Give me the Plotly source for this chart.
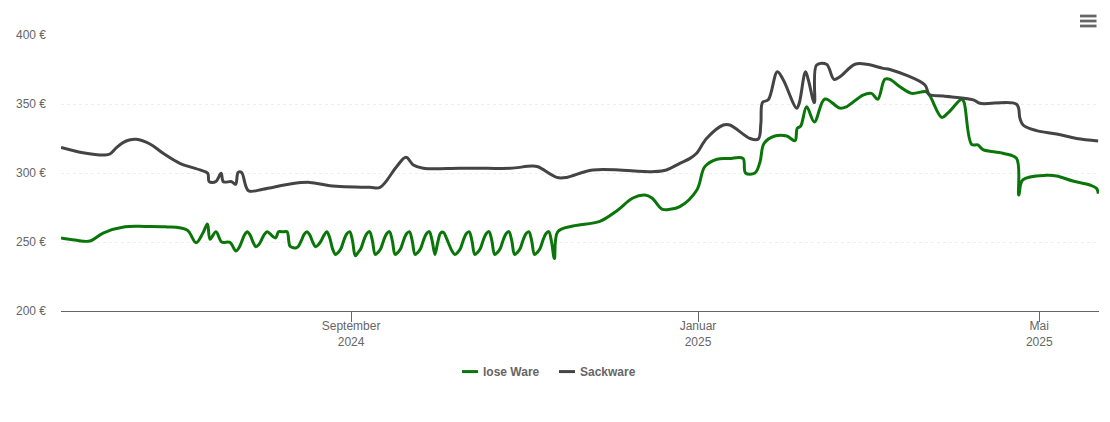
import pandas as pd
import plotly.graph_objects as go

START = pd.Timestamp("2024-05-22")
END = pd.Timestamp("2025-05-22")

# days since START, price in euro
lose_days = [0, 4.9, 10.2, 14.8, 22.5, 29.5, 36.6, 44.3, 47.5, 49.9, 51.5, 52.4, 54.5, 56.5, 59.4,
             61.5, 62.5, 63.5, 64.5, 65.5, 66.5, 67.5, 68.5, 69.5, 70.5, 71.5, 72.5, 73.5, 74.5, 75.5,
             76.5, 77.5, 78.5, 79.5, 80.5, 81.5, 82.5, 83.5, 84.5, 85.5, 86.5, 87.5, 88.5, 89.5,
             90.5, 91.5, 92.5, 93.5, 94.5, 95.5, 96.5, 97.5, 98.5, 99.5, 100.5, 101.5, 102.5, 103.5,
             104.5, 105.5, 106.5, 107.5, 108.5, 109.5, 110.5, 111.5, 112.5, 113.5, 114.5, 115.5, 116.5, 117.5,
             118.5, 119.5, 120.5, 121.5, 122.5, 123.5, 124.5, 125.5, 126.5, 127.5, 128.5, 129.5, 130.5, 131.5,
             132.5, 133.5, 134.5, 135.5, 136.5, 137.5, 138.5, 139.5, 140.5, 141.5, 142.5, 143.5, 144.5, 145.5,
             146.5, 147.5, 148.5, 149.5, 150.5, 151.5, 152.5, 153.5, 154.5, 155.5, 156.5, 157.5, 158.5, 159.5,
             160.5, 161.5, 162.5, 163.5, 164.5, 165.5, 166.5, 167.5, 168.5, 169.5, 170.5, 171.5, 172.5, 173.5,
             174.7, 180, 189.5, 195.5, 201.1, 205.3, 207.8,
             211.3, 214.1, 217.6, 223.6, 226.4, 230.7, 235, 239.8, 240.7, 244, 245.8, 247.2, 251, 255.2,
             258.1, 258.9, 260.1, 262.2, 264.9, 268.6, 273.9, 276.2, 282, 285, 287.2, 289.7, 291.5,
             295, 299.1, 304.1, 305.5, 309.7, 311.9, 316.7, 317.5, 320.2, 322.4, 324.2, 331.2, 336,
             336.8, 338.2, 346.6, 350.1, 355.8, 361.8, 364.1, 364.8]
lose_price = [252.9, 251.4, 250.7, 256.5, 261, 261.3, 261, 258.7, 249.5, 256.5, 263, 252, 257.5, 250, 249.7,
              243.5, 245.5, 250, 255, 257.5, 255, 250, 246.6, 248, 251.5, 255.5, 257.5, 256, 254, 253,
              257.5, 257.5, 257.5, 257.5, 247, 246, 245.6, 247, 251, 255.5, 257.5, 255, 250, 246.6,
              248, 251, 255, 257.5, 253, 245, 241, 242.5, 245.5, 251.5, 256, 257.5, 251, 240,
              242.5, 245.5, 251.5, 256, 257.5, 251, 241, 242.5, 245.5, 251.5, 256, 257.5, 251, 241,
              242.5, 245.5, 251.5, 256, 257.5, 251, 241, 242.5, 245.5, 251.5, 256, 257.5, 251, 241,
              250, 256.5, 257, 253, 248, 243.5, 241, 242.5, 245.5, 251.5, 256, 257.5, 251, 241,
              242.5, 245.5, 251.5, 256, 257.5, 251, 241, 242.5, 245.5, 251.5, 256, 257.5, 251, 241,
              242.5, 245.5, 251.5, 256, 257.5, 251, 241, 242.5, 245.5, 251.5, 256, 257.5, 250, 238,
              257.5, 261.6, 265, 272.7, 281.9, 284, 281.9,
              273.9, 273.7, 275.6, 287.7, 304.6, 310, 310.5, 310.6, 300, 300, 308, 321.4, 326.8, 326.8,
              323.4, 332.4, 334, 348, 337, 353.6, 347, 348, 356.5, 357.7, 353.4, 367.9, 367.9,
              362.5, 357.7, 359, 356, 340.3, 343.5, 353.4, 351.5, 320.8, 320.3, 317, 314.3, 310.6,
              284, 295, 298.3, 297.8, 294.2, 291.3, 288.9, 285]

sack_days = [0, 7.7, 15.5, 17.2, 19.6, 21.8, 24, 26.4, 31.3, 35.9, 41.8, 48.9, 51.6, 52.1, 54.4, 56.3, 57.1, 60,
             61.4, 62.3, 63.5, 65.9, 71, 80.5, 87.5, 94.6, 108.6, 112.2, 118, 121.3, 123.9, 127.4, 140, 150,
             157.9, 165.5, 167.7, 174.3, 177.8, 187, 208.8, 212.9, 217.6, 221.2, 223.5, 227, 232.9,
             235.2, 242.3, 245.2, 246.1, 246.7, 248.7, 251.9, 254, 258.7, 259.6, 261.8, 262.8, 264.9,
             265.7, 269.2, 271.8, 273.9, 279.2, 283.3, 289.1, 291.5, 303.8, 305.3, 310.2, 320.8, 323.1,
             336, 337.2, 338.3, 343, 350.1, 357.1, 364.7]
sack_price = [318.6, 314.7, 313, 313.8, 318.6, 322, 323.9, 324.4, 321, 314.3, 307, 302.2, 299.8, 293.7, 293.7, 299.8, 293.7, 293.7,
              291.8, 300.4, 300.4, 287.2, 288.2, 292, 293.2, 290.8, 289.6, 289.6, 304.6, 311.4, 305.8, 303.4, 303.4, 303.4,
              303.4, 305, 304.5, 296.8, 296.8, 302.2, 301, 302.2, 307, 310.6, 314.3, 325, 334.8,
              334.8, 325, 324.6, 336, 351.2, 353, 373.4, 367.4, 346.9, 350.7, 373.4, 367.4, 351,
              378.3, 378.8, 367.9, 369.8, 378.8, 378.8, 375.8, 375, 363.8, 357, 355.8, 353, 350.5,
              349.8, 339.6, 334.8, 330.7, 328.3, 325, 323.2]

tick_dates = ["2024-09-01", "2025-01-01", "2025-05-01"]
tick_labels = ["September<br>2024", "Januar<br>2025", "Mai<br>2025"]
y_ticks = [200, 250, 300, 350, 400]
y_labels = ["200 €", "250 €", "300 €", "350 €", "400 €"]


def _as_dates(days):
    return START + pd.to_timedelta(days, unit="D")


def _draw_line(days, price, name, color):
    return go.Scatter(x=_as_dates(days), y=price, mode="lines", name=name,
                      line={"color": color, "width": 3, "shape": "spline", "smoothing": 1.0})


fig = go.Figure()
fig.add_trace(_draw_line(lose_days, lose_price, "lose Ware", "#0a760a"))
fig.add_trace(_draw_line(sack_days, sack_price, "Sackware", "#444444"))

# menu icon in the top right corner
for mid in (1.0688, 1.0507, 1.0326):
    fig.add_shape(type="rect", xref="paper", yref="paper", x0=0.9817, x1=0.9976, y0=mid - 0.005, y1=mid + 0.005,
                  fillcolor="#666666", line={"width": 0}, layer="above")

fig.update_layout(
    width=1110, height=422, template="none",
    margin={"l": 61, "r": 11, "t": 35, "b": 111},
    paper_bgcolor="white", plot_bgcolor="white",
    font={"family": "Liberation Sans, Arial, sans-serif", "size": 12, "color": "#666666"},
    legend={"orientation": "h", "x": 0.368, "xanchor": "left", "y": -0.167, "yanchor": "top",
            "entrywidth": 52, "entrywidthmode": "pixels",
            "font": {"size": 12, "color": "#666666", "weight": "bold"}},
)
fig.update_xaxes(range=[START, END], tickvals=tick_dates, ticktext=tick_labels, showgrid=False, zeroline=False,
                 showline=True, linecolor="#666666", linewidth=1, ticks="outside", ticklen=10, tickcolor="#666666",
                 ticklabelstandoff=-6, tickfont={"size": 12, "color": "#666666"})
fig.update_yaxes(range=[200, 400], tickvals=y_ticks, ticktext=y_labels, showline=False, zeroline=False,
                 gridcolor="#eeeeee", griddash="dot", gridwidth=1, ticks="", ticklabelstandoff=14,
                 tickfont={"size": 12, "color": "#666666"})

# plotly has a 30px minimum for legend lines, the original ones are 16px
post = """
document.body.style.margin = '0';
var gd = document.getElementById('{plot_id}');
function shortLegend() {
    gd.querySelectorAll('.legendlines path').forEach(function (p) { p.setAttribute('d', 'M19,0h16'); });
}
gd.on('plotly_afterplot', shortLegend);
shortLegend();
"""
fig.write_html("out.html", config={"displayModeBar": False}, post_script=post)
